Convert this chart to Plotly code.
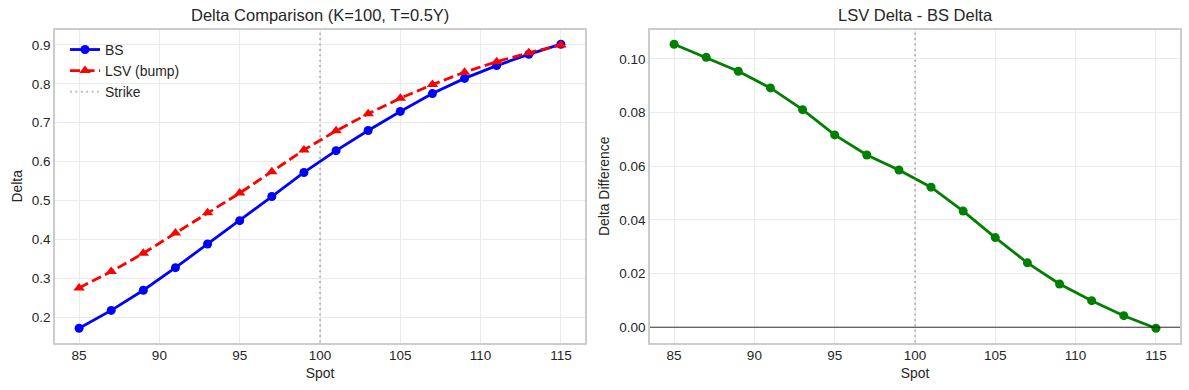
import plotly.graph_objects as go

# ---- data ----
spot = [85, 87, 89, 91, 93, 95, 97, 99, 101, 103, 105, 107, 109, 111, 113, 115]
delta_bs = [0.171, 0.217, 0.269, 0.327, 0.388, 0.448, 0.510, 0.572,
            0.628, 0.680, 0.729, 0.775, 0.814, 0.847, 0.876, 0.902]
delta_lsv = [0.275, 0.317, 0.364, 0.416, 0.468, 0.519, 0.574, 0.630,
             0.679, 0.723, 0.763, 0.798, 0.830, 0.857, 0.880, 0.900]
delta_diff = [0.1055, 0.1006, 0.0954, 0.0892, 0.0811, 0.0717, 0.0642, 0.0586,
              0.0522, 0.0433, 0.0334, 0.0240, 0.0161, 0.0099, 0.0043, -0.0004]
strike = 100
x_ticks = [85, 90, 95, 100, 105, 110, 115]
left_y_ticks = [0.2, 0.3, 0.4, 0.5, 0.6, 0.7, 0.8, 0.9]
right_y_ticks = [0.0, 0.02, 0.04, 0.06, 0.08, 0.10]

W, H = 1189, 390
FONT = "Liberation Sans, Arial, sans-serif"
TXT = "#262626"
GRID = "#ebebeb"
SPINE = "#cccccc"


def pad(lo, hi, frac=0.05):
    d = (hi - lo) * frac
    return [lo - d, hi + d]


fig = go.Figure()

fig.add_trace(go.Scatter(
    x=spot, y=delta_bs, name="BS", mode="lines+markers",
    line=dict(color="blue", width=2.8),
    marker=dict(symbol="circle", size=9, color="blue"),
    xaxis="x", yaxis="y", legendgroup="a"))
fig.add_trace(go.Scatter(
    x=spot, y=delta_lsv, name="LSV (bump)", mode="lines+markers",
    line=dict(color="red", width=2.8, dash="10px,4.5px"),
    marker=dict(symbol="triangle-up", size=10, color="red"),
    xaxis="x", yaxis="y", legendgroup="b"))
# legend entry for strike line
fig.add_trace(go.Scatter(
    x=[None], y=[None], name="Strike", mode="lines",
    line=dict(color="rgba(128,128,128,0.5)", width=2, dash="2px,3.4px"),
    xaxis="x", yaxis="y", legendgroup="c"))

fig.add_trace(go.Scatter(
    x=spot, y=delta_diff, name="diff", mode="lines+markers", showlegend=False,
    line=dict(color="green", width=2.8),
    marker=dict(symbol="circle", size=9, color="green"),
    xaxis="x2", yaxis="y2"))

# strike lines
for xr, yr in (("x", "y domain"), ("x2", "y2 domain")):
    fig.add_shape(type="line", xref=xr, yref=yr, x0=strike, x1=strike, y0=0, y1=1,
                  line=dict(color="rgba(128,128,128,0.5)", width=2, dash="2px,3.4px"),
                  layer="above")
# zero line
fig.add_shape(type="line", xref="x2 domain", yref="y2", x0=0, x1=1, y0=0, y1=0,
              line=dict(color="rgba(0,0,0,0.8)", width=1), layer="above")

xl = pad(min(spot), max(spot))
yl = pad(min(delta_bs + delta_lsv), max(delta_bs + delta_lsv))
yr2 = pad(min(delta_diff), max(delta_diff))

ydom = [1 - 342.5 / H, 1 - 30 / H]
axis_common = dict(showgrid=True, gridcolor=GRID, gridwidth=1, zeroline=False,
                   showline=True, linecolor=SPINE, linewidth=1.5, mirror=True,
                   ticks="", tickfont=dict(size=13.5, color=TXT, family=FONT))

fig.update_layout(
    width=W, height=H,
    margin=dict(l=0, r=0, t=0, b=0),
    paper_bgcolor="white", plot_bgcolor="white",
    font=dict(family=FONT, color=TXT, size=13.9),
    xaxis=dict(domain=[55 / W, 585 / W], range=xl, tickvals=x_ticks, anchor="y",
               title=dict(text="Spot", font=dict(size=13.9), standoff=6), **axis_common),
    yaxis=dict(domain=ydom, range=yl, tickvals=left_y_ticks, tickformat=".1f", anchor="x",
               title=dict(text="Delta", font=dict(size=13.9), standoff=6), **axis_common),
    xaxis2=dict(domain=[650 / W, 1180 / W], range=xl, tickvals=x_ticks, anchor="y2",
                title=dict(text="Spot", font=dict(size=13.9), standoff=6), **axis_common),
    yaxis2=dict(domain=ydom, range=yr2, tickvals=right_y_ticks, tickformat=".2f", anchor="x2",
                title=dict(text="Delta Difference", font=dict(size=13.9), standoff=6),
                **axis_common),
    legend=dict(x=65 / W, y=1 - 34 / H, xanchor="left", yanchor="top",
                bgcolor="rgba(0,0,0,0)", font=dict(size=13.9, color=TXT),
                tracegroupgap=0, itemwidth=30),
    annotations=[
        dict(text="Delta Comparison (K=100, T=0.5Y)", x=(55 + 585) / 2 / W, y=1 - 15 / H,
             xref="paper", yref="paper", showarrow=False, xanchor="center", yanchor="middle",
             font=dict(size=16.5, color=TXT)),
        dict(text="LSV Delta - BS Delta", x=(650 + 1180) / 2 / W, y=1 - 15 / H,
             xref="paper", yref="paper", showarrow=False, xanchor="center", yanchor="middle",
             font=dict(size=16.5, color=TXT)),
    ],
)

fig.write_html("out.html", config={"displayModeBar": False},
               post_script="document.body.style.margin='0';")
